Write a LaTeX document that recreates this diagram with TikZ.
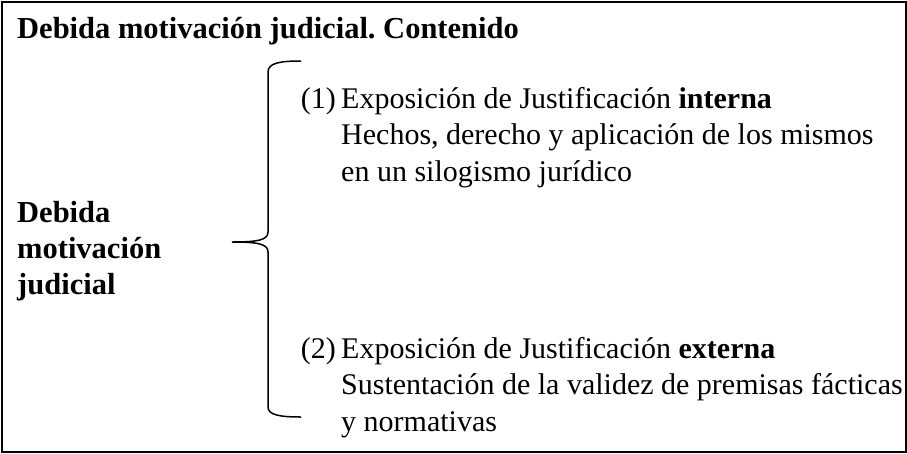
\documentclass[tikz,border=0pt]{standalone}
\usepackage{fontspec}
\setmainfont{Liberation Serif}
\begin{document}
\frenchspacing
\begin{tikzpicture}[x=1pt,y=-1pt,
  txt/.style={anchor=base west,inner sep=0pt,font=\fontsize{30}{36}\selectfont},
  btxt/.style={txt,font=\fontsize{30.5}{36}\selectfont\bfseries},
  numtxt/.style={txt,anchor=base east}]
\useasboundingbox (0,0) rectangle (907,453);
\draw[line width=2pt] (1.5,1.5) rectangle (905.5,451.5);
\node[btxt] (title) at (17,38) {Debida motivación judicial. Contenido};
\node[btxt] (l1) at (17,222) {Debida};
\node[btxt] (l2) at (17,258) {motivación};
\node[btxt] (l3) at (17,294) {judicial};
\coordinate (tip) at (232,242);
\draw[line width=1.5pt] (301,61) .. controls (280,61) and (268,63) .. (268,72)
  -- (268,232) .. controls (268,240) and (258,242) .. (tip)
  .. controls (258,242) and (268,244) .. (268,252)
  -- (268,407) .. controls (268,415) and (280,417) .. (301,417);
\node[numtxt] (n1) at (336,108) {(1)};
\node[txt] (a1) at (341,108) {Exposición de Justificación \textbf{interna}};
\node[txt] (a2) at (341,144) {Hechos, derecho y aplicación de los mismos};
\node[txt] (a3) at (341,181) {en un silogismo jurídico};
\node[numtxt] (n2) at (336,358) {(2)};
\node[txt] (b1) at (341,358) {Exposición de Justificación \textbf{externa}};
\node[txt] (b2) at (341,394) {Sustentación de la validez de premisas fácticas};
\node[txt] (b3) at (341,431) {y normativas};
\end{tikzpicture}
\end{document}
